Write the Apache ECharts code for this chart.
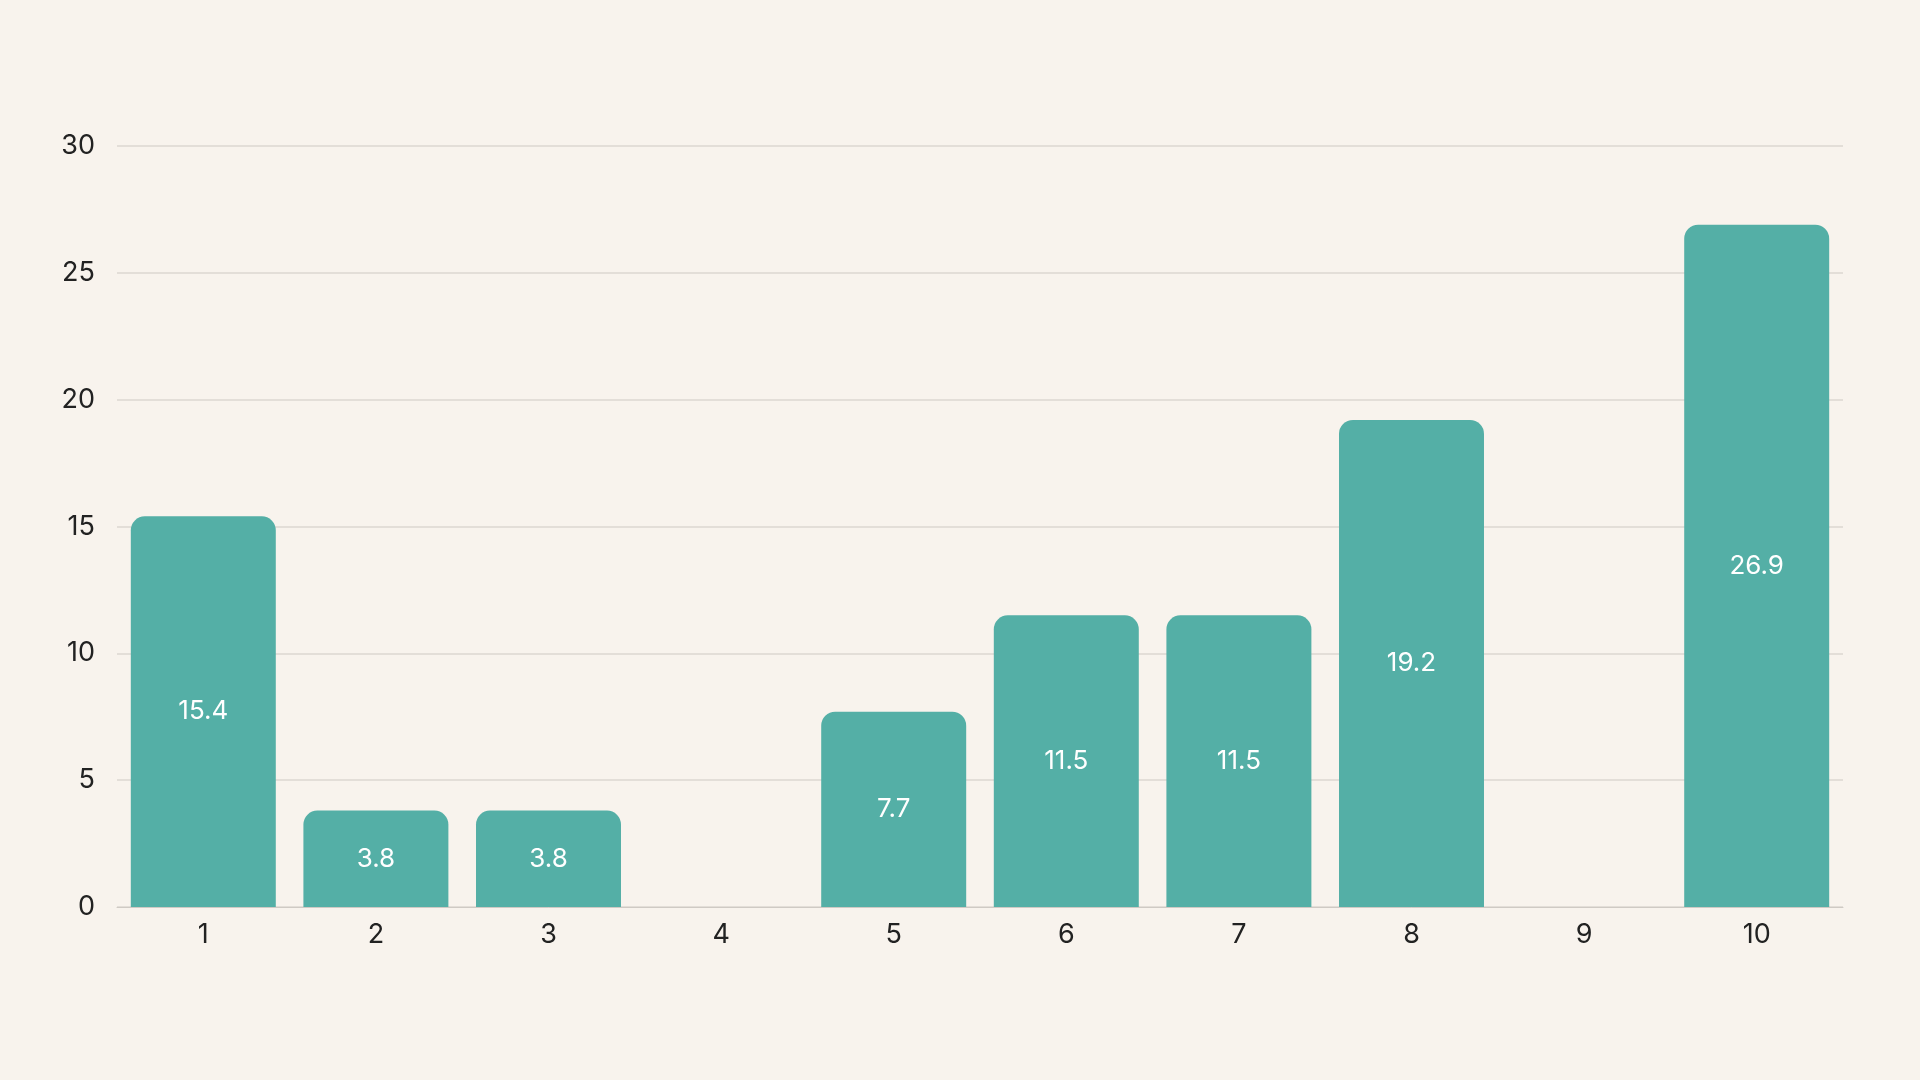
<!DOCTYPE html>
<html>
<head>
<meta charset="UTF-8">
<script src="https://cdn.jsdelivr.net/npm/echarts@6/dist/echarts.min.js"></script>
<style>html,body{margin:0;background:#f8f3ed;}#main{width:1920px;height:1080px;}</style>
</head>
<body>
<div id="main"></div>
<script>
var categories = ['1', '2', '3', '4', '5', '6', '7', '8', '9', '10'];
var values = [15.4, 3.8, 3.8, 0, 7.7, 11.5, 11.5, 19.2, 0, 26.9];

var chart = echarts.init(document.getElementById('main'));
chart.setOption({
    backgroundColor: '#f8f3ed',
    textStyle: {fontFamily: 'Inter'},
    grid: {left: 117, right: 77, top: 146, bottom: 173},
    xAxis: {
        type: 'category',
        data: categories,
        axisLine: {lineStyle: {color: '#cfcac4'}},
        axisTick: {show: false},
        axisLabel: {color: '#222', fontSize: 27, margin: 14}
    },
    yAxis: {
        type: 'value',
        min: 0, max: 30, interval: 5,
        axisLabel: {color: '#222', fontSize: 27, margin: 22},
        splitLine: {lineStyle: {color: '#dcd7d1', width: 1.5}}
    },
    series: [{
        type: 'bar',
        data: values,
        barCategoryGap: '16%',
        itemStyle: {color: '#54afa6', borderRadius: [14, 14, 0, 0]},
        label: {
            show: true,
            position: 'inside',
            color: '#fff',
            fontSize: 26,
            formatter: function (p) { return p.value ? p.value : ''; }
        }
    }]
});
</script>
</body>
</html>
